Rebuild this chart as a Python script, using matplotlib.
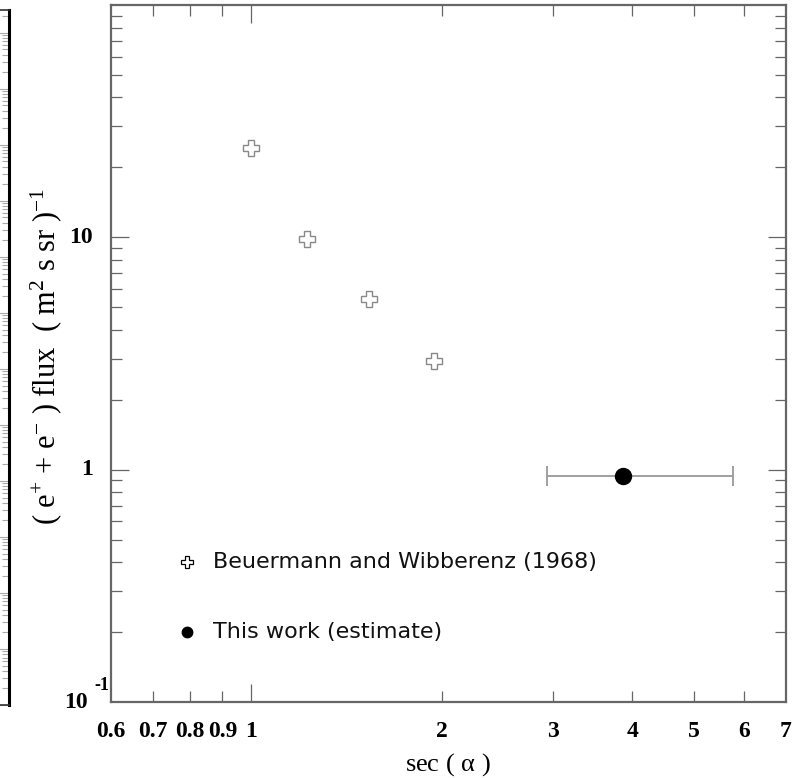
import numpy as np
import matplotlib
matplotlib.use("Agg")
import matplotlib.pyplot as plt
from matplotlib.ticker import FixedLocator, NullFormatter

plt.rcParams["mathtext.fontset"] = "custom"
plt.rcParams["mathtext.rm"] = "Liberation Serif"
plt.rcParams["mathtext.default"] = "rm"

# Beuermann and Wibberenz (1968)
bw_sec = [1.0, 1.225, 1.535, 1.945]
bw_flux = [24.3, 9.8, 5.42, 2.94]

# this work (estimate)
tw_sec = [3.87]
tw_flux = [0.94]
tw_sec_lo = [2.93]
tw_sec_hi = [5.77]

xtick_vals = [0.6, 0.7, 0.8, 0.9, 1, 2, 3, 4, 5, 6, 7]
xtick_labels = ["0.6", "0.7", "0.8", "0.9", "1", "2", "3", "4", "5", "6", "7"]

frame = "#666666"
serif = "Liberation Serif"
W, H = 799, 778


def px(x, y):
    return x / W, 1 - y / H


fig = plt.figure(figsize=(7.99, 7.78), dpi=100)

# cropped neighbour panel on the far left
ax0 = fig.add_axes([-0.05, 0.094, 0.0613, 0.893])
ax0.set_yscale("log")
ax0.set_ylim(1, 10 ** 12.4)
ax0.set_xlim(0, 1)
ax0.set_xticks([])
ax0.yaxis.tick_right()
ax0.tick_params(axis="y", which="both", direction="in", colors="#aaaaaa",
                labelright=False, length=5, width=0.8)
ax0.tick_params(axis="y", which="major", length=8)
ax0.yaxis.set_minor_locator(matplotlib.ticker.LogLocator(base=10, subs=np.arange(2, 10), numticks=40))
ax0.yaxis.set_major_locator(matplotlib.ticker.LogLocator(base=10, numticks=40))
ax0.yaxis.set_minor_formatter(NullFormatter())
ax0.spines["left"].set_visible(False)
ax0.spines["right"].set_linewidth(2.2)
ax0.spines["right"].set_color("black")
for s in ["top", "bottom"]:
    ax0.spines[s].set_color("#333333")
    ax0.spines[s].set_linewidth(1.2)

ax = fig.add_axes([111 / W, 1 - 702 / H, 675 / W, 697 / H])
ax.set_xscale("log")
ax.set_yscale("log")
ax.set_xlim(0.6, 7.0)
ax.set_ylim(0.1, 100)

for s in ax.spines.values():
    s.set_color(frame)
    s.set_linewidth(1.6)

# x ticks
ax.xaxis.set_major_locator(FixedLocator([1]))
ax.xaxis.set_minor_locator(FixedLocator([0.7, 0.8, 0.9, 2, 3, 4, 5, 6]))
ax.xaxis.set_major_formatter(NullFormatter())
ax.xaxis.set_minor_formatter(NullFormatter())
ax.tick_params(axis="x", which="major", direction="in", length=13, width=0.9,
               colors=frame, top=True, bottom=True)
ax.tick_params(axis="x", which="minor", direction="in", length=8, width=0.9,
               colors=frame, top=True, bottom=True)
for v, lab in zip(xtick_vals, xtick_labels):
    ax.text(v, -0.027, lab, transform=ax.get_xaxis_transform(), ha="center", va="top",
            fontsize=17, fontweight="bold", family=serif)

# y ticks
ax.yaxis.set_major_locator(FixedLocator([1, 10]))
ax.yaxis.set_minor_locator(FixedLocator([v * d for d in [0.1, 1, 10] for v in range(2, 10)]))
ax.yaxis.set_major_formatter(NullFormatter())
ax.yaxis.set_minor_formatter(NullFormatter())
ax.tick_params(axis="y", which="major", direction="in", length=13, width=0.9,
               colors=frame, left=True, right=True)
ax.tick_params(axis="y", which="minor", direction="in", length=8, width=0.9,
               colors=frame, left=True, right=True)
for v, lab in [(10, "10"), (1, "1")]:
    ax.text(-0.027, v, lab, transform=ax.get_yaxis_transform(), ha="right", va="center",
            fontsize=17, fontweight="bold", family=serif)
fig.text(*px(88, 703), "10", ha="right", va="center",
         fontsize=17, fontweight="bold", family=serif)
fig.text(*px(94, 686), "-1", ha="left", va="center",
         fontsize=13, fontweight="bold", family=serif)

# data
ax.plot(bw_sec, bw_flux, linestyle="none", marker="P", markersize=11,
        markerfacecolor="white", markeredgecolor="#888888", markeredgewidth=1.0)
xerr = [[c - l for c, l in zip(tw_sec, tw_sec_lo)], [h - c for c, h in zip(tw_sec, tw_sec_hi)]]
ax.errorbar(tw_sec, tw_flux, xerr=xerr, fmt="none", ecolor="#999999",
            elinewidth=1.3, capsize=7, capthick=1.3)
ax.plot(tw_sec, tw_flux, linestyle="none", marker="o", markersize=11.5, color="black")

# legend drawn by hand
ax.plot([0.791], [0.401], linestyle="none", marker="P",
        markersize=8, markerfacecolor="white", markeredgecolor="black", markeredgewidth=0.9)
ax.text(0.870, 0.401, "Beuermann and Wibberenz (1968)", ha="left", va="center",
        fontsize=16, family="DejaVu Sans", color="#111111")
ax.plot([0.791], [0.200], linestyle="none", marker="o", markersize=7.5, color="black")
ax.text(0.870, 0.200, "This work (estimate)", ha="left", va="center",
        fontsize=16, family="DejaVu Sans", color="#111111")

# axis titles
fig.text(*px(448, 765), r"sec ( $\alpha$ )", ha="center", va="center",
         fontsize=19, family=serif)
fig.text(*px(46, 357), r"( e$^{+}$ + e$^{-}$ ) flux  ( m$^{2}$ s sr )$^{-1}$",
         ha="center", va="center", rotation=90, fontsize=22, family=serif)

fig.savefig("out.png", dpi=100)
